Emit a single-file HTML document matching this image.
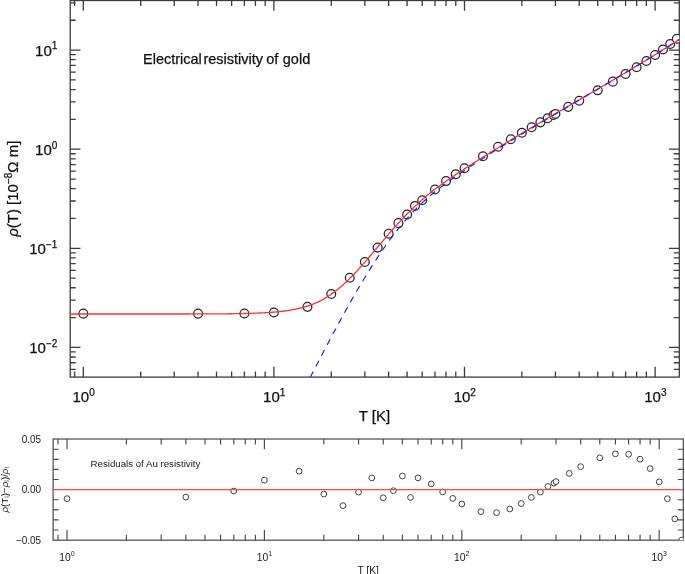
<!DOCTYPE html><html><head><meta charset="utf-8"><title>Electrical resistivity of gold</title><style>html,body{margin:0;padding:0;background:#fff;}svg{display:block;}text{font-family:"Liberation Sans",Arial,sans-serif;fill:#111;}text.b{stroke:#111;stroke-width:0.25px;}text.s{fill:#1a1a1a;}</style></head><body>
<svg width="685" height="574" viewBox="0 0 685 574">
<defs><clipPath id="cm"><rect x="70.2" y="0.5" width="609.1" height="376.6"/></clipPath><clipPath id="cb"><rect x="53.1" y="439.0" width="630.2" height="101.2"/></clipPath></defs>
<path d="M74.58 377.1v-5.5M74.58 0.5v5.5M83.3 377.1v-10.3M83.3 0.5v10.3M140.68 377.1v-5.5M140.68 0.5v5.5M174.24 377.1v-5.5M174.24 0.5v5.5M198.05 377.1v-5.5M198.05 0.5v5.5M216.52 377.1v-5.5M216.52 0.5v5.5M231.62 377.1v-5.5M231.62 0.5v5.5M244.38 377.1v-5.5M244.38 0.5v5.5M255.43 377.1v-5.5M255.43 0.5v5.5M265.18 377.1v-5.5M265.18 0.5v5.5M273.9 377.1v-10.3M273.9 0.5v10.3M331.28 377.1v-5.5M331.28 0.5v5.5M364.84 377.1v-5.5M364.84 0.5v5.5M388.65 377.1v-5.5M388.65 0.5v5.5M407.12 377.1v-5.5M407.12 0.5v5.5M422.22 377.1v-5.5M422.22 0.5v5.5M434.98 377.1v-5.5M434.98 0.5v5.5M446.03 377.1v-5.5M446.03 0.5v5.5M455.78 377.1v-5.5M455.78 0.5v5.5M464.5 377.1v-10.3M464.5 0.5v10.3M521.88 377.1v-5.5M521.88 0.5v5.5M555.44 377.1v-5.5M555.44 0.5v5.5M579.25 377.1v-5.5M579.25 0.5v5.5M597.72 377.1v-5.5M597.72 0.5v5.5M612.82 377.1v-5.5M612.82 0.5v5.5M625.58 377.1v-5.5M625.58 0.5v5.5M636.63 377.1v-5.5M636.63 0.5v5.5M646.38 377.1v-5.5M646.38 0.5v5.5M655.1 377.1v-10.3M655.1 0.5v10.3M70.2 369.39h5.5M679.3 369.39h-5.5M70.2 362.75h5.5M679.3 362.75h-5.5M70.2 357h5.5M679.3 357h-5.5M70.2 351.93h5.5M679.3 351.93h-5.5M70.2 347.4h10.3M679.3 347.4h-10.3M70.2 317.57h5.5M679.3 317.57h-5.5M70.2 300.12h5.5M679.3 300.12h-5.5M70.2 287.74h5.5M679.3 287.74h-5.5M70.2 278.13h5.5M679.3 278.13h-5.5M70.2 270.29h5.5M679.3 270.29h-5.5M70.2 263.65h5.5M679.3 263.65h-5.5M70.2 257.9h5.5M679.3 257.9h-5.5M70.2 252.83h5.5M679.3 252.83h-5.5M70.2 248.3h10.3M679.3 248.3h-10.3M70.2 218.47h5.5M679.3 218.47h-5.5M70.2 201.02h5.5M679.3 201.02h-5.5M70.2 188.64h5.5M679.3 188.64h-5.5M70.2 179.03h5.5M679.3 179.03h-5.5M70.2 171.19h5.5M679.3 171.19h-5.5M70.2 164.55h5.5M679.3 164.55h-5.5M70.2 158.8h5.5M679.3 158.8h-5.5M70.2 153.73h5.5M679.3 153.73h-5.5M70.2 149.2h10.3M679.3 149.2h-10.3M70.2 119.37h5.5M679.3 119.37h-5.5M70.2 101.92h5.5M679.3 101.92h-5.5M70.2 89.54h5.5M679.3 89.54h-5.5M70.2 79.93h5.5M679.3 79.93h-5.5M70.2 72.09h5.5M679.3 72.09h-5.5M70.2 65.45h5.5M679.3 65.45h-5.5M70.2 59.7h5.5M679.3 59.7h-5.5M70.2 54.63h5.5M679.3 54.63h-5.5M70.2 50.1h10.3M679.3 50.1h-10.3M70.2 20.27h5.5M679.3 20.27h-5.5M70.2 2.82h5.5M679.3 2.82h-5.5" stroke="#3c3c3c" stroke-width="1.3" fill="none"/>
<rect x="70.2" y="0.5" width="609.1" height="376.6" fill="none" stroke="#3c3c3c" stroke-width="1.3"/>
<g clip-path="url(#cm)">
<circle cx="83.3" cy="313.63" r="4.4" fill="#fff" stroke="#262626" stroke-width="1.25"/>
<circle cx="198.05" cy="313.63" r="4.4" fill="#fff" stroke="#262626" stroke-width="1.25"/>
<circle cx="244.38" cy="313.45" r="4.4" fill="#fff" stroke="#262626" stroke-width="1.25"/>
<circle cx="273.9" cy="312.54" r="4.4" fill="#fff" stroke="#262626" stroke-width="1.25"/>
<circle cx="307.46" cy="306.86" r="4.4" fill="#fff" stroke="#262626" stroke-width="1.25"/>
<circle cx="331.28" cy="294.02" r="4.4" fill="#fff" stroke="#262626" stroke-width="1.25"/>
<circle cx="349.75" cy="277.8" r="4.4" fill="#fff" stroke="#262626" stroke-width="1.25"/>
<circle cx="364.84" cy="262.03" r="4.4" fill="#fff" stroke="#262626" stroke-width="1.25"/>
<circle cx="377.6" cy="247.62" r="4.4" fill="#fff" stroke="#262626" stroke-width="1.25"/>
<circle cx="388.65" cy="233.79" r="4.4" fill="#fff" stroke="#262626" stroke-width="1.25"/>
<circle cx="398.4" cy="223.13" r="4.4" fill="#fff" stroke="#262626" stroke-width="1.25"/>
<circle cx="407.12" cy="214.55" r="4.4" fill="#fff" stroke="#262626" stroke-width="1.25"/>
<circle cx="415.01" cy="205.9" r="4.4" fill="#fff" stroke="#262626" stroke-width="1.25"/>
<circle cx="422.22" cy="200.2" r="4.4" fill="#fff" stroke="#262626" stroke-width="1.25"/>
<circle cx="434.98" cy="189.52" r="4.4" fill="#fff" stroke="#262626" stroke-width="1.25"/>
<circle cx="446.03" cy="181.09" r="4.4" fill="#fff" stroke="#262626" stroke-width="1.25"/>
<circle cx="455.78" cy="174.19" r="4.4" fill="#fff" stroke="#262626" stroke-width="1.25"/>
<circle cx="464.5" cy="168.27" r="4.4" fill="#fff" stroke="#262626" stroke-width="1.25"/>
<circle cx="482.97" cy="156.21" r="4.4" fill="#fff" stroke="#262626" stroke-width="1.25"/>
<circle cx="498.06" cy="146.81" r="4.4" fill="#fff" stroke="#262626" stroke-width="1.25"/>
<circle cx="510.82" cy="139.2" r="4.4" fill="#fff" stroke="#262626" stroke-width="1.25"/>
<circle cx="521.88" cy="132.8" r="4.4" fill="#fff" stroke="#262626" stroke-width="1.25"/>
<circle cx="531.63" cy="127.27" r="4.4" fill="#fff" stroke="#262626" stroke-width="1.25"/>
<circle cx="540.35" cy="122.35" r="4.4" fill="#fff" stroke="#262626" stroke-width="1.25"/>
<circle cx="547.68" cy="118.29" r="4.4" fill="#fff" stroke="#262626" stroke-width="1.25"/>
<circle cx="553.53" cy="115.01" r="4.4" fill="#fff" stroke="#262626" stroke-width="1.25"/>
<circle cx="555.44" cy="113.95" r="4.4" fill="#fff" stroke="#262626" stroke-width="1.25"/>
<circle cx="568.2" cy="106.87" r="4.4" fill="#fff" stroke="#262626" stroke-width="1.25"/>
<circle cx="579.25" cy="100.72" r="4.4" fill="#fff" stroke="#262626" stroke-width="1.25"/>
<circle cx="597.72" cy="90.33" r="4.4" fill="#fff" stroke="#262626" stroke-width="1.25"/>
<circle cx="612.82" cy="81.64" r="4.4" fill="#fff" stroke="#262626" stroke-width="1.25"/>
<circle cx="625.58" cy="74.07" r="4.4" fill="#fff" stroke="#262626" stroke-width="1.25"/>
<circle cx="636.63" cy="67.24" r="4.4" fill="#fff" stroke="#262626" stroke-width="1.25"/>
<circle cx="646.38" cy="60.93" r="4.4" fill="#fff" stroke="#262626" stroke-width="1.25"/>
<circle cx="655.1" cy="55.02" r="4.4" fill="#fff" stroke="#262626" stroke-width="1.25"/>
<circle cx="662.99" cy="49.4" r="4.4" fill="#fff" stroke="#262626" stroke-width="1.25"/>
<circle cx="670.19" cy="43.98" r="4.4" fill="#fff" stroke="#262626" stroke-width="1.25"/>
<circle cx="676.82" cy="38.82" r="4.4" fill="#fff" stroke="#262626" stroke-width="1.25"/>
<polyline points="64.83,314.02 65.86,314.02 66.89,314.02 67.92,314.02 68.96,314.02 69.99,314.02 71.02,314.02 72.05,314.02 73.08,314.02 74.12,314.02 75.15,314.02 76.18,314.02 77.21,314.02 78.24,314.02 79.28,314.02 80.31,314.02 81.34,314.02 82.37,314.02 83.4,314.02 84.44,314.02 85.47,314.02 86.5,314.02 87.53,314.02 88.56,314.02 89.6,314.02 90.63,314.02 91.66,314.02 92.69,314.02 93.72,314.02 94.75,314.02 95.79,314.02 96.82,314.02 97.85,314.02 98.88,314.02 99.91,314.02 100.95,314.02 101.98,314.02 103.01,314.02 104.04,314.02 105.07,314.02 106.11,314.02 107.14,314.02 108.17,314.02 109.2,314.02 110.23,314.02 111.27,314.02 112.3,314.02 113.33,314.02 114.36,314.02 115.39,314.02 116.43,314.02 117.46,314.02 118.49,314.02 119.52,314.02 120.55,314.02 121.58,314.02 122.62,314.02 123.65,314.01 124.68,314.01 125.71,314.01 126.74,314.01 127.78,314.01 128.81,314.01 129.84,314.01 130.87,314.01 131.9,314.01 132.94,314.01 133.97,314.01 135,314.01 136.03,314.01 137.06,314.01 138.1,314.01 139.13,314.01 140.16,314.01 141.19,314.01 142.22,314.01 143.26,314.01 144.29,314.01 145.32,314.01 146.35,314.01 147.38,314.01 148.41,314.01 149.45,314.01 150.48,314.01 151.51,314.01 152.54,314.01 153.57,314.01 154.61,314.01 155.64,314.01 156.67,314.01 157.7,314.01 158.73,314.01 159.77,314.01 160.8,314.01 161.83,314 162.86,314 163.89,314 164.93,314 165.96,314 166.99,314 168.02,314 169.05,314 170.09,314 171.12,314 172.15,314 173.18,314 174.21,314 175.24,313.99 176.28,313.99 177.31,313.99 178.34,313.99 179.37,313.99 180.4,313.99 181.44,313.99 182.47,313.99 183.5,313.98 184.53,313.98 185.56,313.98 186.6,313.98 187.63,313.98 188.66,313.98 189.69,313.97 190.72,313.97 191.76,313.97 192.79,313.97 193.82,313.96 194.85,313.96 195.88,313.96 196.92,313.96 197.95,313.95 198.98,313.95 200.01,313.95 201.04,313.94 202.07,313.94 203.11,313.94 204.14,313.93 205.17,313.93 206.2,313.93 207.23,313.92 208.27,313.92 209.3,313.91 210.33,313.91 211.36,313.9 212.39,313.9 213.43,313.89 214.46,313.89 215.49,313.88 216.52,313.87 217.55,313.87 218.59,313.86 219.62,313.85 220.65,313.84 221.68,313.83 222.71,313.83 223.75,313.82 224.78,313.81 225.81,313.8 226.84,313.79 227.87,313.78 228.91,313.76 229.94,313.75 230.97,313.74 232,313.73 233.03,313.71 234.06,313.7 235.1,313.68 236.13,313.67 237.16,313.65 238.19,313.63 239.22,313.62 240.26,313.6 241.29,313.58 242.32,313.56 243.35,313.53 244.38,313.51 245.42,313.49 246.45,313.46 247.48,313.44 248.51,313.41 249.54,313.38 250.58,313.35 251.61,313.32 252.64,313.29 253.67,313.25 254.7,313.21 255.74,313.18 256.77,313.14 257.8,313.1 258.83,313.05 259.86,313.01 260.89,312.96 261.93,312.91 262.96,312.86 263.99,312.8 265.02,312.75 266.05,312.69 267.09,312.63 268.12,312.56 269.15,312.49 270.18,312.42 271.21,312.35 272.25,312.27 273.28,312.19 274.31,312.1 275.34,312.01 276.37,311.92 277.41,311.82 278.44,311.72 279.47,311.61 280.5,311.5 281.53,311.39 282.57,311.27 283.6,311.14 284.63,311.01 285.66,310.87 286.69,310.73 287.72,310.58 288.76,310.42 289.79,310.26 290.82,310.08 291.85,309.91 292.88,309.72 293.92,309.53 294.95,309.32 295.98,309.11 297.01,308.89 298.04,308.66 299.08,308.42 300.11,308.18 301.14,307.92 302.17,307.65 303.2,307.37 304.24,307.08 305.27,306.77 306.3,306.46 307.33,306.13 308.36,305.79 309.4,305.43 310.43,305.06 311.46,304.68 312.49,304.28 313.52,303.87 314.55,303.45 315.59,303.01 316.62,302.55 317.65,302.08 318.68,301.59 319.71,301.08 320.75,300.56 321.78,300.02 322.81,299.46 323.84,298.88 324.87,298.29 325.91,297.68 326.94,297.05 327.97,296.41 329,295.74 330.03,295.06 331.07,294.35 332.1,293.63 333.13,292.89 334.16,292.13 335.19,291.35 336.23,290.56 337.26,289.74 338.29,288.91 339.32,288.06 340.35,287.19 341.38,286.3 342.42,285.4 343.45,284.48 344.48,283.54 345.51,282.58 346.54,281.61 347.58,280.62 348.61,279.62 349.64,278.6 350.67,277.56 351.7,276.51 352.74,275.45 353.77,274.38 354.8,273.29 355.83,272.19 356.86,271.07 357.9,269.95 358.93,268.82 359.96,267.67 360.99,266.52 362.02,265.35 363.06,264.18 364.09,263 365.12,261.81 366.15,260.62 367.18,259.42 368.21,258.22 369.25,257.01 370.28,255.79 371.31,254.58 372.34,253.36 373.37,252.14 374.41,250.91 375.44,249.69 376.47,248.46 377.5,247.24 378.53,246.01 379.57,244.79 380.6,243.56 381.63,242.34 382.66,241.13 383.69,239.91 384.73,238.7 385.76,237.5 386.79,236.29 387.82,235.1 388.85,233.91 389.89,232.72 390.92,231.54 391.95,230.37 392.98,229.2 394.01,228.04 395.04,226.88 396.08,225.74 397.11,224.6 398.14,223.47 399.17,222.34 400.2,221.23 401.24,220.12 402.27,219.02 403.3,217.93 404.33,216.85 405.36,215.78 406.4,214.72 407.43,213.67 408.46,212.62 409.49,211.59 410.52,210.57 411.56,209.56 412.59,208.55 413.62,207.56 414.65,206.58 415.68,205.61 416.72,204.65 417.75,203.7 418.78,202.76 419.81,201.83 420.84,200.91 421.87,200 422.91,199.1 423.94,198.21 424.97,197.33 426,196.46 427.03,195.6 428.07,194.75 429.1,193.91 430.13,193.08 431.16,192.25 432.19,191.43 433.23,190.63 434.26,189.82 435.29,189.03 436.32,188.25 437.35,187.47 438.39,186.7 439.42,185.93 440.45,185.18 441.48,184.42 442.51,183.68 443.55,182.94 444.58,182.21 445.61,181.48 446.64,180.76 447.67,180.04 448.71,179.33 449.74,178.62 450.77,177.92 451.8,177.22 452.83,176.53 453.86,175.84 454.9,175.15 455.93,174.47 456.96,173.79 457.99,173.11 459.02,172.43 460.06,171.76 461.09,171.09 462.12,170.42 463.15,169.75 464.18,169.09 465.22,168.42 466.25,167.76 467.28,167.1 468.31,166.44 469.34,165.78 470.38,165.12 471.41,164.46 472.44,163.8 473.47,163.15 474.5,162.49 475.54,161.84 476.57,161.18 477.6,160.53 478.63,159.88 479.66,159.23 480.69,158.58 481.73,157.94 482.76,157.29 483.79,156.64 484.82,156 485.85,155.35 486.89,154.71 487.92,154.07 488.95,153.43 489.98,152.79 491.01,152.15 492.05,151.51 493.08,150.87 494.11,150.23 495.14,149.6 496.17,148.96 497.21,148.33 498.24,147.7 499.27,147.06 500.3,146.43 501.33,145.8 502.37,145.17 503.4,144.54 504.43,143.91 505.46,143.29 506.49,142.66 507.52,142.03 508.56,141.41 509.59,140.78 510.62,140.16 511.65,139.54 512.68,138.91 513.72,138.29 514.75,137.67 515.78,137.05 516.81,136.43 517.84,135.81 518.88,135.19 519.91,134.58 520.94,133.96 521.97,133.34 523,132.73 524.04,132.11 525.07,131.5 526.1,130.88 527.13,130.27 528.16,129.66 529.2,129.04 530.23,128.43 531.26,127.82 532.29,127.21 533.32,126.6 534.35,125.99 535.39,125.38 536.42,124.77 537.45,124.16 538.48,123.55 539.51,122.95 540.55,122.34 541.58,121.73 542.61,121.13 543.64,120.52 544.67,119.91 545.71,119.31 546.74,118.7 547.77,118.1 548.8,117.5 549.83,116.89 550.87,116.29 551.9,115.68 552.93,115.08 553.96,114.48 554.99,113.88 556.03,113.27 557.06,112.67 558.09,112.07 559.12,111.47 560.15,110.87 561.18,110.27 562.22,109.67 563.25,109.06 564.28,108.46 565.31,107.86 566.34,107.26 567.38,106.66 568.41,106.06 569.44,105.46 570.47,104.86 571.5,104.26 572.54,103.66 573.57,103.06 574.6,102.46 575.63,101.86 576.66,101.26 577.7,100.66 578.73,100.06 579.76,99.46 580.79,98.86 581.82,98.26 582.86,97.66 583.89,97.06 584.92,96.46 585.95,95.86 586.98,95.26 588.01,94.66 589.05,94.06 590.08,93.46 591.11,92.85 592.14,92.25 593.17,91.65 594.21,91.05 595.24,90.45 596.27,89.85 597.3,89.24 598.33,88.64 599.37,88.04 600.4,87.43 601.43,86.83 602.46,86.23 603.49,85.62 604.53,85.02 605.56,84.41 606.59,83.81 607.62,83.2 608.65,82.59 609.69,81.99 610.72,81.38 611.75,80.77 612.78,80.16 613.81,79.56 614.84,78.95 615.88,78.34 616.91,77.73 617.94,77.12 618.97,76.51 620,75.9 621.04,75.28 622.07,74.67 623.1,74.06 624.13,73.44 625.16,72.83 626.2,72.22 627.23,71.6 628.26,70.98 629.29,70.37 630.32,69.75 631.36,69.13 632.39,68.51 633.42,67.89 634.45,67.27 635.48,66.65 636.52,66.03 637.55,65.41 638.58,64.78 639.61,64.16 640.64,63.54 641.68,62.91 642.71,62.28 643.74,61.66 644.77,61.03 645.8,60.4 646.83,59.77 647.87,59.14 648.9,58.51 649.93,57.87 650.96,57.24 651.99,56.61 653.03,55.97 654.06,55.34 655.09,54.7 656.12,54.06 657.15,53.42 658.19,52.78 659.22,52.14 660.25,51.5 661.28,50.85 662.31,50.21 663.35,49.56 664.38,48.92 665.41,48.27 666.44,47.62 667.47,46.97 668.51,46.32 669.54,45.67 670.57,45.01 671.6,44.36 672.63,43.7 673.66,43.05 674.7,42.39 675.73,41.73 676.76,41.07 677.79,40.4 678.82,39.74 679.86,39.08 680.89,38.41 681.92,37.74 682.95,37.07" fill="none" stroke="#ff3030" stroke-width="1.3"/>
<polyline points="301.75,393.83 302.52,392.35 303.28,390.87 304.04,389.39 304.81,387.91 305.57,386.43 306.34,384.95 307.1,383.47 307.86,381.99 308.63,380.51 309.39,379.04 310.16,377.56 310.92,376.08 311.68,374.6 312.45,373.12 313.21,371.65 313.97,370.17 314.74,368.7 315.5,367.22 316.27,365.75 317.03,364.28 317.79,362.81 318.56,361.34 319.32,359.87 320.09,358.4 320.85,356.94 321.61,355.47 322.38,354.01 323.14,352.55 323.91,351.09 324.67,349.64 325.43,348.18 326.2,346.73 326.96,345.28 327.73,343.83 328.49,342.38 329.25,340.94 330.02,339.5 330.78,338.06 331.55,336.62 332.31,335.19 333.07,333.75 333.84,332.32 334.6,330.9 335.36,329.47 336.13,328.05 336.89,326.64 337.66,325.22 338.42,323.81 339.18,322.4 339.95,321 340.71,319.59 341.48,318.2 342.24,316.8 343,315.41 343.77,314.02 344.53,312.64 345.3,311.26 346.06,309.88 346.82,308.51 347.59,307.14 348.35,305.78 349.12,304.42 349.88,303.06 350.64,301.71 351.41,300.36 352.17,299.02 352.94,297.68 353.7,296.35 354.46,295.02 355.23,293.69 355.99,292.37 356.75,291.06 357.52,289.75 358.28,288.44 359.05,287.14 359.81,285.85 360.57,284.56 361.34,283.28 362.1,282 362.87,280.72 363.63,279.46 364.39,278.19 365.16,276.94 365.92,275.69 366.69,274.44 367.45,273.2 368.21,271.97 368.98,270.74 369.74,269.52 370.51,268.31 371.27,267.1 372.03,265.9 372.8,264.7 373.56,263.51 374.33,262.33 375.09,261.15 375.85,259.98 376.62,258.82 377.38,257.67 378.14,256.52 378.91,255.38 379.67,254.24 380.44,253.11 381.2,251.99 381.96,250.88 382.73,249.77 383.49,248.68 384.26,247.58 385.02,246.5 385.78,245.43 386.55,244.36 387.31,243.3 388.08,242.24 388.84,241.2 389.6,240.16 390.37,239.13 391.13,238.1 391.9,237.09 392.66,236.08 393.42,235.08 394.19,234.09 394.95,233.1 395.72,232.12 396.48,231.15 397.24,230.19 398.01,229.23 398.77,228.28 399.53,227.34 400.3,226.41 401.06,225.48 401.83,224.57 402.59,223.66 403.35,222.75 404.12,221.86 404.88,220.97 405.65,220.09 406.41,219.22 407.17,218.35 407.94,217.49 408.7,216.64 409.47,215.8 410.23,214.97 410.99,214.14 411.76,213.32 412.52,212.5 413.29,211.7 414.05,210.9 414.81,210.11 415.58,209.33 416.34,208.55 417.11,207.79 417.87,207.03 418.63,206.27 419.4,205.53 420.16,204.79 420.92,204.06 421.69,203.33 422.45,202.62 423.22,201.9 423.98,201.2 424.74,200.5 425.51,199.81 426.27,199.12 427.04,198.44 427.8,197.77 428.56,197.1 429.33,196.44 430.09,195.78 430.86,195.13 431.62,194.49 432.38,193.85 433.15,193.21 433.91,192.58 434.68,191.96 435.44,191.34 436.2,190.72 436.97,190.11 437.73,189.51 438.5,188.91 439.26,188.31 440.02,187.72 440.79,187.13 441.55,186.54 442.31,185.96 443.08,185.39 443.84,184.82 444.61,184.25 445.37,183.68 446.13,183.12 446.9,182.56 447.66,182.01 448.43,181.46 449.19,180.91 449.95,180.36 450.72,179.82 451.48,179.28 452.25,178.74 453.01,178.21 453.77,177.67 454.54,177.14 455.3,176.61 456.07,176.09 456.83,175.56 457.59,175.04 458.36,174.52 459.12,174 459.89,173.49 460.65,172.97 461.41,172.46 462.18,171.94 462.94,171.43 463.7,170.92 464.47,170.41 465.23,169.9 466,169.39 466.76,168.88 467.52,168.38 468.29,167.87 469.05,167.37 469.82,166.86 470.58,166.36 471.34,165.86 472.11,165.35 472.87,164.85 473.64,164.35 474.4,163.85 475.16,163.35 475.93,162.85 476.69,162.36 477.46,161.86 478.22,161.36 478.98,160.87 479.75,160.37 480.51,159.88 481.28,159.39 482.04,158.89 482.8,158.4 483.57,157.91 484.33,157.42 485.09,156.93 485.86,156.44 486.62,155.95 487.39,155.47 488.15,154.98 488.91,154.49 489.68,154.01 490.44,153.52 491.21,153.04 491.97,152.55 492.73,152.07 493.5,151.59 494.26,151.11 495.03,150.62 495.79,150.14 496.55,149.66 497.32,149.18 498.08,148.71 498.85,148.23 499.61,147.75 500.37,147.27 501.14,146.8 501.9,146.32 502.67,145.84 503.43,145.37 504.19,144.89 504.96,144.42 505.72,143.95 506.48,143.47 507.25,143 508.01,142.53 508.78,142.06 509.54,141.59 510.3,141.12 511.07,140.65 511.83,140.18 512.6,139.71 513.36,139.24 514.12,138.77 514.89,138.31 515.65,137.84 516.42,137.37 517.18,136.91 517.94,136.44 518.71,135.98 519.47,135.51 520.24,135.05 521,134.58 521.76,134.12 522.53,133.66 523.29,133.19 524.06,132.73 524.82,132.27 525.58,131.81 526.35,131.35 527.11,130.89 527.87,130.43 528.64,129.97 529.4,129.51 530.17,129.05 530.93,128.59 531.69,128.13 532.46,127.67 533.22,127.22 533.99,126.76 534.75,126.3 535.51,125.84 536.28,125.39 537.04,124.93 537.81,124.48 538.57,124.02 539.33,123.57 540.1,123.11 540.86,122.66 541.63,122.2 542.39,121.75 543.15,121.29 543.92,120.84 544.68,120.39 545.44,119.93 546.21,119.48 546.97,119.03 547.74,118.58 548.5,118.12 549.26,117.67 550.03,117.22 550.79,116.77 551.56,116.32 552.32,115.87 553.08,115.42 553.85,114.97 554.61,114.51 555.38,114.06 556.14,113.61 556.9,113.16 557.67,112.71 558.43,112.27 559.2,111.82 559.96,111.37 560.72,110.92 561.49,110.47 562.25,110.02 563.02,109.57 563.78,109.12 564.54,108.67 565.31,108.23 566.07,107.78 566.83,107.33 567.6,106.88 568.36,106.43 569.13,105.98 569.89,105.54 570.65,105.09 571.42,104.64 572.18,104.19 572.95,103.75 573.71,103.3 574.47,102.85 575.24,102.4 576,101.96 576.77,101.51 577.53,101.06 578.29,100.61 579.06,100.17 579.82,99.72 580.59,99.27 581.35,98.83 582.11,98.38 582.88,97.93 583.64,97.48 584.41,97.04 585.17,96.59 585.93,96.14 586.7,95.69 587.46,95.25 588.22,94.8 588.99,94.35 589.75,93.9 590.52,93.46 591.28,93.01 592.04,92.56 592.81,92.11 593.57,91.66 594.34,91.22 595.1,90.77 595.86,90.32 596.63,89.87 597.39,89.42 598.16,88.97 598.92,88.53 599.68,88.08 600.45,87.63 601.21,87.18 601.98,86.73 602.74,86.28 603.5,85.83 604.27,85.38 605.03,84.93 605.8,84.48 606.56,84.03 607.32,83.58 608.09,83.13 608.85,82.68 609.61,82.23 610.38,81.77 611.14,81.32 611.91,80.87 612.67,80.42 613.43,79.97 614.2,79.51 614.96,79.06 615.73,78.61 616.49,78.15 617.25,77.7 618.02,77.25 618.78,76.79 619.55,76.34 620.31,75.88 621.07,75.43 621.84,74.97 622.6,74.52 623.37,74.06 624.13,73.61 624.89,73.15 625.66,72.69 626.42,72.24 627.19,71.78 627.95,71.32 628.71,70.86 629.48,70.41 630.24,69.95 631,69.49 631.77,69.03 632.53,68.57 633.3,68.11 634.06,67.65 634.82,67.19 635.59,66.73 636.35,66.26 637.12,65.8 637.88,65.34 638.64,64.88 639.41,64.41 640.17,63.95 640.94,63.49 641.7,63.02 642.46,62.56 643.23,62.09 643.99,61.62 644.76,61.16 645.52,60.69 646.28,60.22 647.05,59.76 647.81,59.29 648.58,58.82 649.34,58.35 650.1,57.88 650.87,57.41 651.63,56.94 652.39,56.47 653.16,56 653.92,55.52 654.69,55.05 655.45,54.58 656.21,54.1 656.98,53.63 657.74,53.16 658.51,52.68 659.27,52.2 660.03,51.73 660.8,51.25 661.56,50.77 662.33,50.29 663.09,49.82 663.85,49.34 664.62,48.86 665.38,48.38 666.15,47.89 666.91,47.41 667.67,46.93 668.44,46.45 669.2,45.96 669.97,45.48 670.73,44.99 671.49,44.51 672.26,44.02 673.02,43.54 673.78,43.05 674.55,42.56 675.31,42.07 676.08,41.58 676.84,41.09 677.6,40.6 678.37,40.11 679.13,39.62 679.9,39.12 680.66,38.63 681.42,38.13 682.19,37.64 682.95,37.14" fill="none" stroke="#2020ff" stroke-width="1.2" stroke-dasharray="6.4 5.77" stroke-dashoffset="5.77"/>
</g>
<text class="b" x="57.3" y="55.8" text-anchor="end" font-size="15">10<tspan dy="-6.4" font-size="10">1</tspan></text>
<text class="b" x="57.3" y="154.9" text-anchor="end" font-size="15">10<tspan dy="-6.4" font-size="10">0</tspan></text>
<text class="b" x="57.3" y="254" text-anchor="end" font-size="15">10<tspan dy="-6.4" font-size="10">−1</tspan></text>
<text class="b" x="57.3" y="353.1" text-anchor="end" font-size="15">10<tspan dy="-6.4" font-size="10">−2</tspan></text>
<text class="b" x="83.6" y="402.3" text-anchor="middle" font-size="15">10<tspan dy="-6.4" font-size="10">0</tspan></text>
<text class="b" x="274.2" y="402.3" text-anchor="middle" font-size="15">10<tspan dy="-6.4" font-size="10">1</tspan></text>
<text class="b" x="464.8" y="402.3" text-anchor="middle" font-size="15">10<tspan dy="-6.4" font-size="10">2</tspan></text>
<text class="b" x="655.4" y="402.3" text-anchor="middle" font-size="15">10<tspan dy="-6.4" font-size="10">3</tspan></text>
<text class="b" x="374.5" y="420.8" text-anchor="middle" font-size="15">T [K]</text>
<text class="b" transform="translate(18.2,188.7) rotate(-90)" text-anchor="middle" font-size="15"><tspan font-style="italic">ρ</tspan>(T) [10<tspan dy="-6.4" font-size="10">−8</tspan><tspan dy="6.4">Ω m]</tspan></text>
<text class="b" x="143" y="64.4" font-size="14.5">Electrical</text>
<text class="b" x="203.4" y="64.4" font-size="14.5">resistivity</text>
<text class="b" x="266.2" y="64.4" font-size="14.5">of</text>
<text class="b" x="282.8" y="64.4" font-size="14.5">gold</text>
<path d="M57.97 540.2v-5.5M57.97 439v5.5M67 540.2v-10.3M67 439v10.3M126.42 540.2v-5.5M126.42 439v5.5M161.18 540.2v-5.5M161.18 439v5.5M185.85 540.2v-5.5M185.85 439v5.5M204.98 540.2v-5.5M204.98 439v5.5M220.61 540.2v-5.5M220.61 439v5.5M233.82 540.2v-5.5M233.82 439v5.5M245.27 540.2v-5.5M245.27 439v5.5M255.37 540.2v-5.5M255.37 439v5.5M264.4 540.2v-10.3M264.4 439v10.3M323.82 540.2v-5.5M323.82 439v5.5M358.58 540.2v-5.5M358.58 439v5.5M383.25 540.2v-5.5M383.25 439v5.5M402.38 540.2v-5.5M402.38 439v5.5M418.01 540.2v-5.5M418.01 439v5.5M431.22 540.2v-5.5M431.22 439v5.5M442.67 540.2v-5.5M442.67 439v5.5M452.77 540.2v-5.5M452.77 439v5.5M461.8 540.2v-10.3M461.8 439v10.3M521.22 540.2v-5.5M521.22 439v5.5M555.98 540.2v-5.5M555.98 439v5.5M580.65 540.2v-5.5M580.65 439v5.5M599.78 540.2v-5.5M599.78 439v5.5M615.41 540.2v-5.5M615.41 439v5.5M628.62 540.2v-5.5M628.62 439v5.5M640.07 540.2v-5.5M640.07 439v5.5M650.17 540.2v-5.5M650.17 439v5.5M659.2 540.2v-10.3M659.2 439v10.3M53.1 530h5.5M683.3 530h-5.5M53.1 519.9h5.5M683.3 519.9h-5.5M53.1 509.8h5.5M683.3 509.8h-5.5M53.1 499.7h5.5M683.3 499.7h-5.5M53.1 479.5h5.5M683.3 479.5h-5.5M53.1 469.4h5.5M683.3 469.4h-5.5M53.1 459.3h5.5M683.3 459.3h-5.5M53.1 449.2h5.5M683.3 449.2h-5.5" stroke="#484848" stroke-width="1.15" fill="none"/>
<rect x="53.1" y="439.0" width="630.2" height="101.2" fill="none" stroke="#484848" stroke-width="1.2"/>
<g clip-path="url(#cb)">
<circle cx="67" cy="498.69" r="2.9" fill="#fff" stroke="#3a3a3a" stroke-width="0.95"/>
<circle cx="185.85" cy="497.07" r="2.9" fill="#fff" stroke="#3a3a3a" stroke-width="0.95"/>
<circle cx="233.82" cy="491.01" r="2.9" fill="#fff" stroke="#3a3a3a" stroke-width="0.95"/>
<circle cx="264.4" cy="480.11" r="2.9" fill="#fff" stroke="#3a3a3a" stroke-width="0.95"/>
<circle cx="299.16" cy="471.22" r="2.9" fill="#fff" stroke="#3a3a3a" stroke-width="0.95"/>
<circle cx="323.82" cy="494.04" r="2.9" fill="#fff" stroke="#3a3a3a" stroke-width="0.95"/>
<circle cx="342.95" cy="505.66" r="2.9" fill="#fff" stroke="#3a3a3a" stroke-width="0.95"/>
<circle cx="358.58" cy="492.12" r="2.9" fill="#fff" stroke="#3a3a3a" stroke-width="0.95"/>
<circle cx="371.8" cy="477.88" r="2.9" fill="#fff" stroke="#3a3a3a" stroke-width="0.95"/>
<circle cx="383.25" cy="497.78" r="2.9" fill="#fff" stroke="#3a3a3a" stroke-width="0.95"/>
<circle cx="393.34" cy="490.71" r="2.9" fill="#fff" stroke="#3a3a3a" stroke-width="0.95"/>
<circle cx="402.38" cy="476.07" r="2.9" fill="#fff" stroke="#3a3a3a" stroke-width="0.95"/>
<circle cx="410.55" cy="497.48" r="2.9" fill="#fff" stroke="#3a3a3a" stroke-width="0.95"/>
<circle cx="418.01" cy="477.88" r="2.9" fill="#fff" stroke="#3a3a3a" stroke-width="0.95"/>
<circle cx="431.22" cy="483.84" r="2.9" fill="#fff" stroke="#3a3a3a" stroke-width="0.95"/>
<circle cx="442.67" cy="491.92" r="2.9" fill="#fff" stroke="#3a3a3a" stroke-width="0.95"/>
<circle cx="452.77" cy="498.39" r="2.9" fill="#fff" stroke="#3a3a3a" stroke-width="0.95"/>
<circle cx="461.8" cy="503.94" r="2.9" fill="#fff" stroke="#3a3a3a" stroke-width="0.95"/>
<circle cx="480.93" cy="511.62" r="2.9" fill="#fff" stroke="#3a3a3a" stroke-width="0.95"/>
<circle cx="496.56" cy="512.63" r="2.9" fill="#fff" stroke="#3a3a3a" stroke-width="0.95"/>
<circle cx="509.78" cy="508.99" r="2.9" fill="#fff" stroke="#3a3a3a" stroke-width="0.95"/>
<circle cx="521.22" cy="503.54" r="2.9" fill="#fff" stroke="#3a3a3a" stroke-width="0.95"/>
<circle cx="531.32" cy="497.48" r="2.9" fill="#fff" stroke="#3a3a3a" stroke-width="0.95"/>
<circle cx="540.35" cy="492.02" r="2.9" fill="#fff" stroke="#3a3a3a" stroke-width="0.95"/>
<circle cx="547.95" cy="486.47" r="2.9" fill="#fff" stroke="#3a3a3a" stroke-width="0.95"/>
<circle cx="554" cy="483.04" r="2.9" fill="#fff" stroke="#3a3a3a" stroke-width="0.95"/>
<circle cx="555.98" cy="481.62" r="2.9" fill="#fff" stroke="#3a3a3a" stroke-width="0.95"/>
<circle cx="569.2" cy="473.44" r="2.9" fill="#fff" stroke="#3a3a3a" stroke-width="0.95"/>
<circle cx="580.65" cy="466.67" r="2.9" fill="#fff" stroke="#3a3a3a" stroke-width="0.95"/>
<circle cx="599.78" cy="457.79" r="2.9" fill="#fff" stroke="#3a3a3a" stroke-width="0.95"/>
<circle cx="615.41" cy="453.85" r="2.9" fill="#fff" stroke="#3a3a3a" stroke-width="0.95"/>
<circle cx="628.62" cy="454.25" r="2.9" fill="#fff" stroke="#3a3a3a" stroke-width="0.95"/>
<circle cx="640.07" cy="459.2" r="2.9" fill="#fff" stroke="#3a3a3a" stroke-width="0.95"/>
<circle cx="650.17" cy="468.59" r="2.9" fill="#fff" stroke="#3a3a3a" stroke-width="0.95"/>
<circle cx="659.2" cy="481.82" r="2.9" fill="#fff" stroke="#3a3a3a" stroke-width="0.95"/>
<circle cx="667.37" cy="498.69" r="2.9" fill="#fff" stroke="#3a3a3a" stroke-width="0.95"/>
<circle cx="674.83" cy="518.89" r="2.9" fill="#fff" stroke="#3a3a3a" stroke-width="0.95"/>
<circle cx="681.69" cy="540.1" r="2.9" fill="#fff" stroke="#3a3a3a" stroke-width="0.95"/>
<line x1="53.1" y1="489.6" x2="683.3" y2="489.6" stroke="#ff4545" stroke-width="1.1"/>
</g>
<text class="s" x="41.2" y="442.8" text-anchor="end" font-size="10">0.05</text>
<text class="s" x="41.2" y="493.3" text-anchor="end" font-size="10">0.00</text>
<text class="s" x="41.2" y="543.8" text-anchor="end" font-size="10">−0.05</text>
<text class="s" x="67" y="560.5" text-anchor="middle" font-size="10.3">10<tspan dy="-4.5" font-size="7">0</tspan></text>
<text class="s" x="264.4" y="560.5" text-anchor="middle" font-size="10.3">10<tspan dy="-4.5" font-size="7">1</tspan></text>
<text class="s" x="461.8" y="560.5" text-anchor="middle" font-size="10.3">10<tspan dy="-4.5" font-size="7">2</tspan></text>
<text class="s" x="659.2" y="560.5" text-anchor="middle" font-size="10.3">10<tspan dy="-4.5" font-size="7">3</tspan></text>
<text class="s" x="368.2" y="573.6" text-anchor="middle" font-size="10.3">T [K]</text>
<text class="s" transform="translate(7.6,489.8) rotate(-90)" text-anchor="middle" font-size="9.8"><tspan font-style="italic">ρ</tspan>(T<tspan dy="1.8" font-size="6.8">i</tspan><tspan dy="-1.8">)−</tspan><tspan font-style="italic">ρ</tspan><tspan dy="1.8" font-size="6.8">i</tspan><tspan dy="-1.8">)/</tspan><tspan font-style="italic">ρ</tspan><tspan dy="1.8" font-size="6.8">i</tspan></text>
<text class="s" x="90.5" y="466.9" font-size="9.7">Residuals of Au resistivity</text>
</svg></body></html>
